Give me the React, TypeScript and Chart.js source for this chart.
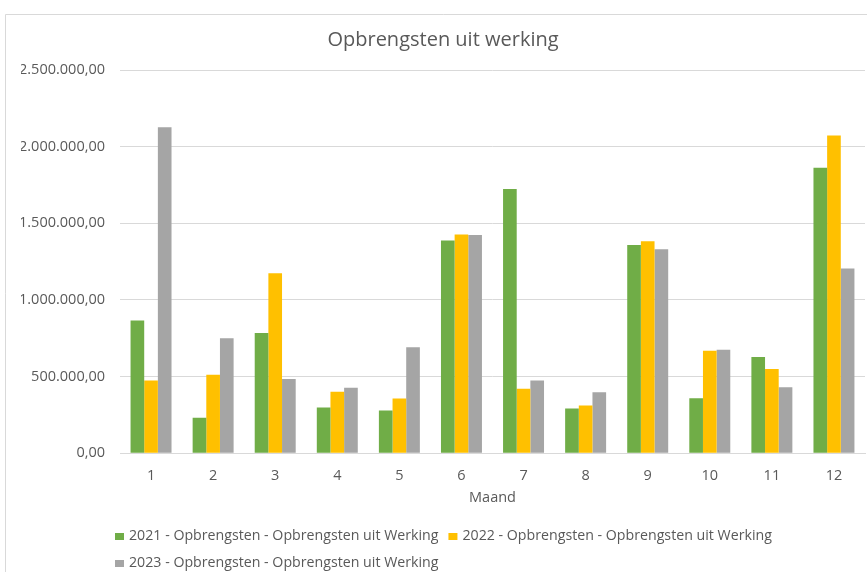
import React, { useEffect, useRef } from "react";
import { Chart, registerables } from "chart.js";

Chart.register(...registerables);

const months = ["1", "2", "3", "4", "5", "6", "7", "8", "9", "10", "11", "12"];
const values2021 = [865000, 231000, 784000, 298000, 279000, 1388000, 1723000, 292000, 1359000, 359000, 627000, 1863000];
const values2022 = [475000, 512000, 1174000, 401000, 357000, 1427000, 420000, 312000, 1383000, 669000, 549000, 2072000];
const values2023 = [2126000, 750000, 484000, 427000, 691000, 1423000, 475000, 397000, 1331000, 675000, 431000, 1205000];
const seriesLabels = [
  "2021 - Opbrengsten - Opbrengsten uit Werking",
  "2022 - Opbrengsten - Opbrengsten uit Werking",
  "2023 - Opbrengsten - Opbrengsten uit Werking",
];
const seriesColors = ["#70AD47", "#FFC000", "#A5A5A5"];
const chartTitle = "Opbrengsten uit werking";
const xTitle = "Maand";

const FONT = '"Open Sans", sans-serif';
const TEXT = "#595959";
const GRID = "#D9D9D9";

function fmt(v: number): string {
  const s = Math.round(v).toString().replace(/\B(?=(\d{3})+(?!\d))/g, ".");
  return s + ",00";
}

const framePlugin = {
  id: "frame",
  beforeDraw(chart: any) {
    const ctx = chart.ctx;
    ctx.save();
    ctx.fillStyle = "#ffffff";
    ctx.fillRect(0, 0, chart.width, chart.height);
    ctx.strokeStyle = GRID;
    ctx.lineWidth = 1;
    ctx.beginPath();
    ctx.moveTo(0.5, chart.height);
    ctx.lineTo(0.5, 0.5);
    ctx.lineTo(chart.width, 0.5);
    ctx.stroke();
    ctx.restore();
  },
};

const legendPlugin = {
  id: "excelLegend",
  afterDraw(chart: any) {
    const ctx = chart.ctx;
    ctx.save();
    ctx.font = "14.2px " + FONT;
    ctx.textBaseline = "middle";
    ctx.textAlign = "left";
    const items = chart.data.datasets.map((ds: any) => ({ text: ds.label, color: ds.backgroundColor }));
    const boxW = 9;
    const boxH = 7;
    const gapText = 5;
    const colGap = 10;
    const maxText = Math.max(...items.map((i: any) => ctx.measureText(i.text).width));
    const itemW = boxW + gapText + maxText;
    const cols = 2;
    const total = cols * itemW + (cols - 1) * colGap;
    const startX = Math.round((chart.width - total) / 2);
    const firstRowY = chart.chartArea.bottom + 83;
    const rowH = 27;
    items.forEach((it: any, i: number) => {
      const col = i % cols;
      const row = Math.floor(i / cols);
      const x = startX + col * (itemW + colGap);
      const y = firstRowY + row * rowH;
      ctx.fillStyle = it.color;
      ctx.fillRect(x, Math.round(y - boxH / 2), boxW, boxH);
      ctx.fillStyle = TEXT;
      ctx.fillText(it.text, x + boxW + gapText, y);
    });
    ctx.restore();
  },
};

export default function App() {
  const ref = useRef<HTMLCanvasElement | null>(null);

  useEffect(() => {
    if (!ref.current) return;
    const datasets = [values2021, values2022, values2023].map((vals, i) => ({
      label: seriesLabels[i],
      data: vals,
      backgroundColor: seriesColors[i],
      borderWidth: 0,
      categoryPercentage: 0.66,
      barPercentage: 1.0,
    }));
    const chart = new Chart(ref.current, {
      type: "bar",
      data: { labels: months, datasets },
      plugins: [framePlugin, legendPlugin],
      options: {
        animation: false,
        responsive: false,
        maintainAspectRatio: false,
        layout: { padding: { left: 16, right: 16, top: 0, bottom: 65 } },
        plugins: {
          legend: { display: false },
          tooltip: { enabled: false },
          title: {
            display: true,
            text: chartTitle,
            color: TEXT,
            font: { family: FONT, size: 20, weight: "normal" },
            padding: { top: 14, bottom: 18 },
          },
        },
        scales: {
          x: {
            grid: { display: false, drawTicks: false },
            border: { display: true, color: GRID, width: 1 },
            ticks: { color: TEXT, font: { family: FONT, size: 14.5 }, padding: 14, maxRotation: 0 },
            title: {
              display: true,
              text: xTitle,
              color: TEXT,
              font: { family: FONT, size: 14.5 },
              padding: { top: -9, bottom: 0 },
            },
          },
          y: {
            min: 0,
            max: 2500000,
            afterFit: (s: any) => {
              s.width = 99;
            },
            grid: { color: GRID, lineWidth: 1, drawTicks: false },
            border: { display: false },
            ticks: {
              stepSize: 500000,
              color: TEXT,
              font: { family: FONT, size: 14.5 },
              padding: 15,
              callback: (v: any) => fmt(Number(v)),
            },
          },
        },
      },
    });
    return () => chart.destroy();
  }, []);

  return (
    <div
      style={{
        position: "fixed",
        left: 0,
        top: 0,
        width: 867,
        height: 572,
        overflow: "hidden",
        background: "#ffffff",
      }}
    >
      <canvas
        ref={ref}
        width={876}
        height={558}
        style={{ position: "absolute", left: 5, top: 14, width: 876, height: 558 }}
      />
    </div>
  );
}
